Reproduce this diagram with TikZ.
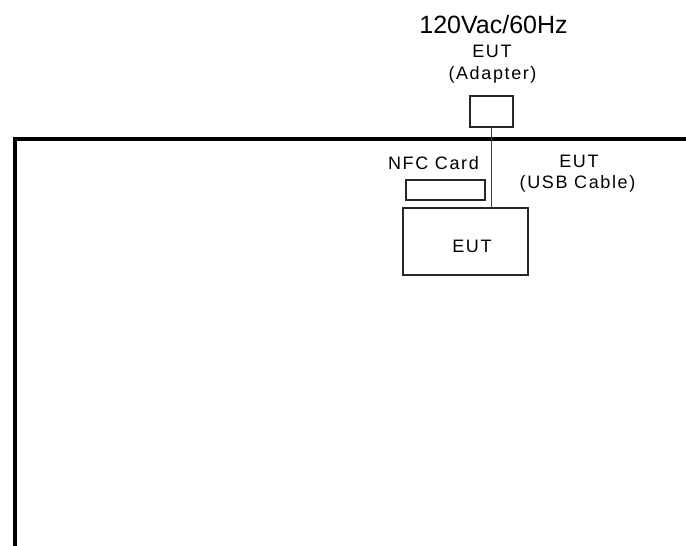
\documentclass[tikz,border=0pt]{standalone}
\usepackage{fontspec}
\setmainfont{Liberation Sans}
\newfontfamily\spaced[LetterSpace=9]{Liberation Sans}
\begin{document}
\begin{tikzpicture}[x=1pt,y=-1pt,
  lbl/.style={font=\spaced\fontsize{18}{21}\selectfont, anchor=base, inner sep=0},
  bigl/.style={font=\fontsize{25}{29}\selectfont, anchor=base, inner sep=0},
  box/.style={draw=black!85, line width=1.6pt, inner sep=0, rectangle},
  frame/.style={line width=4pt, line join=miter},
  cable/.style={draw=black!75, line width=1.8pt}]
\useasboundingbox (0,0) rectangle (686,546);
% frame
\coordinate (fb) at (14.5,546);
\coordinate (fc) at (14.5,139);
\coordinate (fr) at (686,139);
\draw[frame] (fb) -- (fc) -- (fr);
% boxes
\node[box, minimum width=43pt, minimum height=31pt] (adapter) at (491.5,111.5) {};
\node[box, minimum width=79pt, minimum height=20pt] (nfc) at (445.5,190) {};
\node[box, minimum width=125pt, minimum height=67pt] (eut) at (465.5,241.5) {};
% cable
\draw[cable] (adapter.south) -- (adapter.south |- eut.north);
% labels
\node[bigl] (pwr) at (493.5,33) {120Vac/60Hz};
\node[lbl] (eutA) at (492,57) {EUT};
\node[lbl] (adap) at (492.5,79) {(Adapter)};
\node[lbl] (nfcl) at (433.5,169) {NFC Card};
\node[lbl] (eutU) at (579,167) {EUT};
\node[lbl] (usb) at (577.5,188) {(USB Cable)};
\node[lbl] (eutl) at (472,252) {EUT};
\end{tikzpicture}
\end{document}
